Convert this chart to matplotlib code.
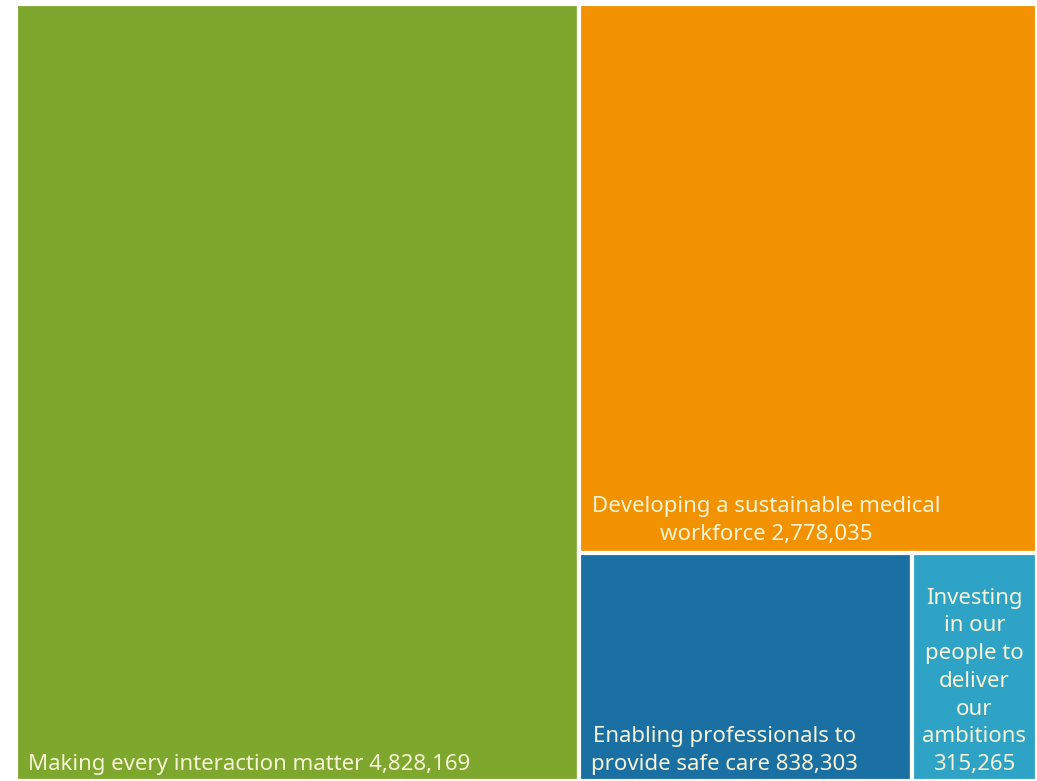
import matplotlib
matplotlib.use("Agg")
import matplotlib.pyplot as plt
from matplotlib.patches import Rectangle

labels = ["Making every interaction matter",
          "Developing a sustainable medical\nworkforce",
          "Enabling professionals to\nprovide safe care",
          "Investing\nin our\npeople to\ndeliver\nour\nambitions"]
values = [4828169, 2778035, 838303, 315265]
colors = ["#7ea72e", "#f29200", "#1a6fa3", "#2ea3c6"]
text_color = "#f8f3d6"

W, H = 1037, 781
fig = plt.figure(figsize=(W / 100, H / 100), dpi=100)
ax = fig.add_axes([16 / W, 0, 1021 / W, 777 / H])
ax.set_xlim(0, 1)
ax.set_ylim(0, 1)
ax.axis("off")

total = sum(values)
# slice-and-dice layout computed from the values
wg = values[0] / total
rest = total - values[0]
ho = values[1] / rest
wb = values[2] / (values[2] + values[3])

rects = [
    (0, 0, wg, 1),
    (wg, 1 - ho, 1 - wg, ho),
    (wg, 0, (1 - wg) * wb, 1 - ho),
    (wg + (1 - wg) * wb, 0, (1 - wg) * (1 - wb), 1 - ho),
]
for (x, y, w, h), c in zip(rects, colors):
    ax.add_patch(Rectangle((x, y), w, h, facecolor=c, edgecolor="white", linewidth=3))

fs = 16
fam = "Noto Sans"
ls = 1.42
def lab(i):
    return f"{labels[i]} {values[i]:,}"

x, y, w, h = rects[0]
ax.annotate(lab(0), xy=(x, y), xytext=(12, 11), textcoords="offset pixels",
            ha="left", va="baseline", color=text_color, fontsize=fs, family=fam)
x, y, w, h = rects[1]
ax.annotate(lab(1), xy=(x, y), xytext=(13, 13), textcoords="offset pixels",
            ha="left", va="baseline", multialignment="center", color=text_color,
            fontsize=fs, family=fam, linespacing=ls)
x, y, w, h = rects[2]
ax.annotate(lab(2), xy=(x, y), xytext=(12, 11), textcoords="offset pixels",
            ha="left", va="baseline", multialignment="center", color=text_color,
            fontsize=fs, family=fam, linespacing=ls)
x, y, w, h = rects[3]
ax.annotate(labels[3] + f"\n{values[3]:,}", xy=(x + w / 2, y), xytext=(0, 11),
            textcoords="offset pixels", ha="center", va="baseline",
            multialignment="center", color=text_color, fontsize=fs, family=fam,
            linespacing=ls)

fig.savefig("out.png", dpi=100, facecolor="white")
